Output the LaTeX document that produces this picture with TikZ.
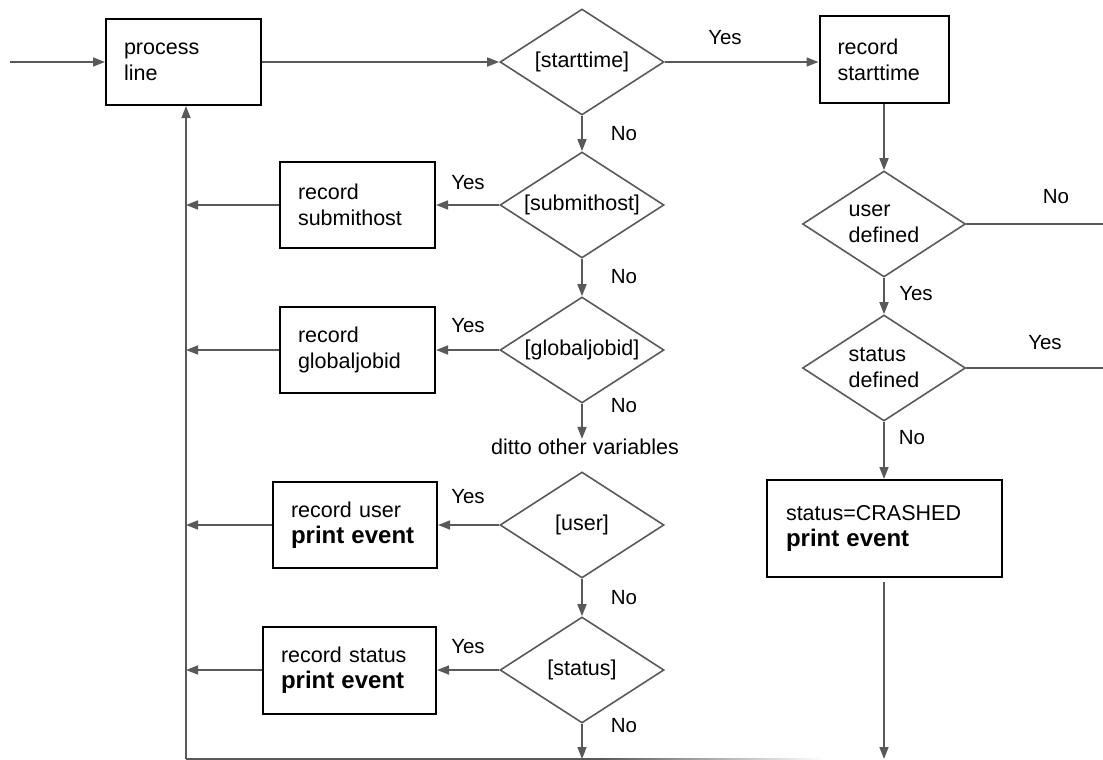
\documentclass[tikz,border=0pt]{standalone}
\usepackage{fontspec}
\setmainfont{Liberation Sans}
\usetikzlibrary{shapes.geometric, arrows.meta}

\definecolor{linegray}{HTML}{595959}
\newcommand{\printev}{{\fontsize{24}{28}\selectfont\bfseries print event}}

\begin{document}
\begin{tikzpicture}[x=1pt, y=-1pt,
    font=\fontsize{21.5}{26}\selectfont,
    box/.style={draw=black, line width=2pt, inner xsep=18pt, inner ysep=0pt, align=left},
    choice/.style={diamond, draw=linegray, line width=1.6pt, minimum width=164pt, minimum height=106pt, inner sep=0pt, aspect=1.55, align=left},
    flow/.style={draw=linegray, line width=1.6pt},
    arr/.style={flow, -{Triangle[length=12pt, width=9pt]}},
    lbl/.style={inner sep=0pt, font=\fontsize{20.5}{24}\selectfont}]
    \useasboundingbox (0,0) rectangle (1103,760);

    % left column of records
    \node[box, text width=119pt, minimum height=86pt] (proc) at (183.5, 62) {process\\line};
    \node[box, text width=119pt, minimum height=86pt] (rsub) at (357.5, 205) {record\\submithost};
    \node[box, text width=119pt, minimum height=86pt] (rglob) at (357.5, 350) {record\\globaljobid};
    \node[box, text width=128pt, minimum height=86pt] (ruser) at (355, 525) {record user\\\printev};
    \node[box, text width=137pt, minimum height=87pt] (rstat) at (349.5, 670) {record status\\\printev};

    % middle column of tests
    \node[choice] (dstart) at (582, 62) {[starttime]};
    \node[choice] (dsub) at (582, 205) {[submithost]};
    \node[choice] (dglob) at (582, 350) {[globaljobid]};
    \node[lbl, font=\fontsize{21.5}{26}\selectfont] (ditto) at (585, 447) {ditto other variables};
    \node[choice] (duser) at (582, 525) {[user]};
    \node[choice] (dstat) at (582, 670) {[status]};

    % right column
    \node[box, text width=93pt, minimum height=87pt] (rstart) at (884, 59.5) {record\\starttime};
    \node[choice, minimum width=163pt] (udef) at (884, 224) {user\\defined};
    \node[choice, minimum width=163pt] (sdef) at (884, 368) {status\\defined};
    \node[box, text width=197pt, inner xsep=19pt, minimum height=97pt] (crash) at (884.5, 528.5) {status=CRASHED\\\printev};

    \coordinate (in) at (10, 62);
    \coordinate (bl) at (186, 759); % bottom left corner
    \coordinate (bm) at (600, 759);
    \coordinate (ue) at (1103, 224);
    \coordinate (se) at (1103, 368);
    \coordinate (cout) at (884, 582);

    % Yes / No
    \node[lbl] (y1) at (725, 38) {Yes};
    \node[lbl] (n1) at (624, 134) {No};
    \node[lbl] (y2) at (468, 183) {Yes};
    \node[lbl] (n2) at (624, 277) {No};
    \node[lbl] (y3) at (468, 326) {Yes};
    \node[lbl] (n3) at (624, 406) {No};
    \node[lbl] (y4) at (468, 497) {Yes};
    \node[lbl] (n4) at (624, 598) {No};
    \node[lbl] (y5) at (468, 647) {Yes};
    \node[lbl] (n5) at (624, 726) {No};
    \node[lbl] (n6) at (1056, 197) {No};
    \node[lbl] (y6) at (916, 294) {Yes};
    \node[lbl] (y7) at (1045, 343) {Yes};
    \node[lbl] (n7) at (912, 438) {No};

    \draw[arr] (in) -- (proc.west);
    \draw[arr] (proc.east) -- (dstart.west);
    \draw[arr] (dstart.east) -- (dstart.east -| rstart.west);

    \draw[arr] (dstart.south) -- (dsub.north);
    \draw[arr] (dsub.south) -- (dglob.north);
    \draw[arr] (dglob.south) -- (dglob.south |- ditto.north);
    \draw[arr] (duser.south) -- (dstat.north);
    \draw[arr] (dstat.south) -- (dstat.south |- bl);

    \draw[arr] (dsub.west) -- (rsub.east);
    \draw[arr] (dglob.west) -- (rglob.east);
    \draw[arr] (duser.west) -- (ruser.east);
    \draw[arr] (dstat.west) -- (rstat.east);

    \draw[arr] (rsub.west) -- (rsub.west -| bl);
    \draw[arr] (rglob.west) -- (rglob.west -| bl);
    \draw[arr] (ruser.west) -- (ruser.west -| bl);
    \draw[arr] (rstat.west) -- (rstat.west -| bl);

    % way back
    \draw[arr] (bl) -- (bl |- proc.south);
    \draw[flow] (bl) -- (bm);
    \shade[left color=linegray, right color=white] (600, 758.2) rectangle (823, 759.8);

    \draw[arr] (rstart.south) -- (udef.north);
    \draw[arr] (udef.south) -- (sdef.north);
    \draw[arr] (sdef.south) -- (sdef.south |- crash.north);
    \draw[flow] (udef.east) -- (ue);
    \draw[flow] (sdef.east) -- (se);
    \draw[arr] (cout) -- (cout |- bl);
\end{tikzpicture}
\end{document}
